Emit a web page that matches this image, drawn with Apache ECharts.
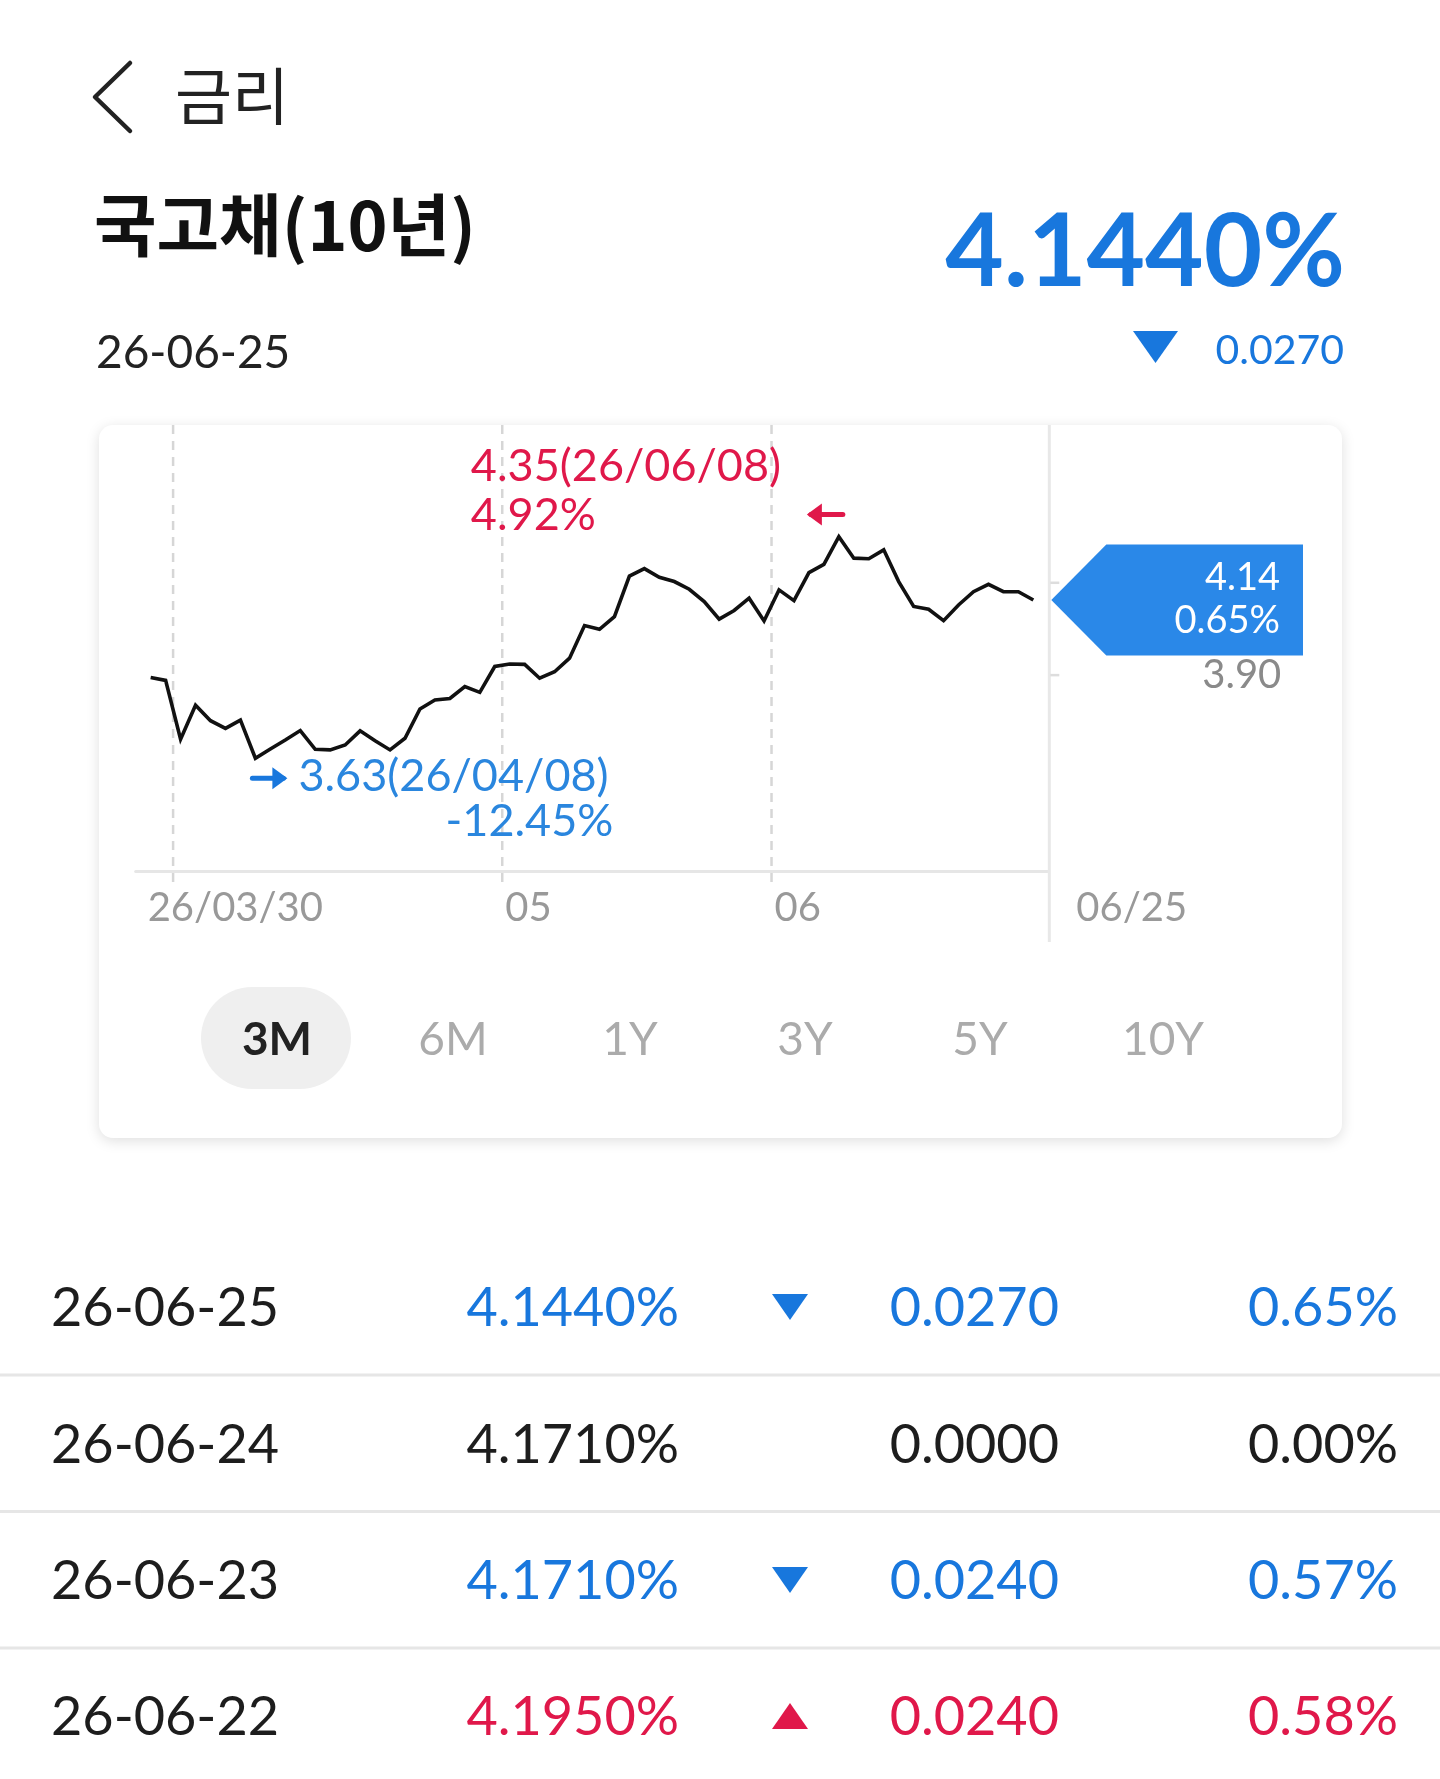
<!DOCTYPE html>
<html><head><meta charset="utf-8">
<script src="https://cdn.jsdelivr.net/npm/echarts@6/dist/echarts.min.js"></script>
<style>html,body{margin:0;padding:0;background:#fff}#c{width:1440px;height:1779px}</style>
</head><body><div id="c"></div>
<script>
// ---- data ----
const dates = ['26/03/30','26/03/31','26/04/01','26/04/02','26/04/03','26/04/06','26/04/07','26/04/08','26/04/09','26/04/10',
  '26/04/13','26/04/14','26/04/15','26/04/16','26/04/17','26/04/20','26/04/21','26/04/22','26/04/23','26/04/24',
  '26/04/27','26/04/28','26/04/29','26/04/30','26/05/04','26/05/06','26/05/07','26/05/08','26/05/11','26/05/12',
  '26/05/13','26/05/14','26/05/15','26/05/18','26/05/19','26/05/20','26/05/21','26/05/22','26/05/26','26/05/27',
  '26/05/28','26/05/29','26/06/01','26/06/02','26/06/04','26/06/05','26/06/08','26/06/09','26/06/10','26/06/11',
  '26/06/12','26/06/15','26/06/16','26/06/17','26/06/18','26/06/19','26/06/22','26/06/23','26/06/24','26/06/25'];
const rates = [3.892,3.883,3.692,3.802,3.752,3.727,3.754,3.630,3.660,3.689,
  3.720,3.659,3.657,3.673,3.719,3.687,3.657,3.695,3.790,3.819,
  3.824,3.863,3.844,3.928,3.936,3.935,3.890,3.911,3.955,4.061,
  4.049,4.090,4.222,4.246,4.218,4.204,4.179,4.139,4.082,4.110,
  4.150,4.076,4.177,4.142,4.233,4.260,4.350,4.280,4.278,4.307,
  4.204,4.123,4.114,4.077,4.128,4.171,4.195,4.171,4.171,4.144];
const yTickValues = [3.90, 4.20];
const yLabelValues = [3.90];
const periods = ['3M','6M','1Y','3Y','5Y','10Y'];
const maxPctText = '4.92%';
const minPctText = '-12.45%';

const headTitle = '금리';
const bondName = '국고채(10년)';
const headDate = '26-06-25';
const headRate = '4.1440%';
const headChange = '0.0270';

const tableDates = ['26-06-25','26-06-24','26-06-23','26-06-22'];
const tableRates = ['4.1440%','4.1710%','4.1710%','4.1950%'];
const tableChanges = ['0.0270','0.0000','0.0240','0.0240'];
const tablePcts = ['0.65%','0.00%','0.57%','0.58%'];
const tableDirs = [-1, 0, -1, 1];

// ---- style ----
const F = "Lato, 'Noto Sans CJK KR', sans-serif";
const KR = "'Noto Sans CJK KR', Lato, sans-serif";
const BLUE = '#1877dd', RED = '#e0184a', DARK = '#1d1d1d';

const chart = echarts.init(document.getElementById('c'), null, {renderer:'canvas', width:1440, height:1779});

const gridLeft = 135.7, gridRightPx = 1048.3, gridTop = 425.5, gridBottomPx = 871.5;

chart.setOption({
  backgroundColor:'#ffffff',
  animation:false,
  grid:{left:gridLeft, right:1440-gridRightPx, top:gridTop, bottom:1779-gridBottomPx, containLabel:false},
  xAxis:{type:'value', min:-1, max:rates.length, axisLine:{show:true, onZero:false, lineStyle:{color:'#e6e6e6', width:3}},
    axisTick:{show:false}, axisLabel:{show:false}, splitLine:{show:false}},
  yAxis:{type:'value', position:'right', min:3.262, max:4.711, scale:true,
    axisLine:{show:false},
    axisTick:{show:false},
    axisLabel:{show:true, customValues:yLabelValues, formatter:v=>v.toFixed(2), align:'right', margin:233, color:'#8a8a8a', fontSize:40, fontFamily:F},
    splitLine:{show:false}},
  series:[{type:'line', data:rates.map((v,i)=>[i,v]), symbol:'none', lineStyle:{color:'#111', width:3.6, join:'miter'}, z:5, silent:true}]
});

function T(text, x, y, size, fill, align, weight, family){
  return {type:'text', z:30, silent:true, style:{text:text, x:x, y:y, fill:fill,
    font:(weight||'normal')+' '+size+'px '+(family||F),
    textAlign:align||'left', textVerticalAlign:'middle', align:align||'left', verticalAlign:'middle'}};
}
function L(x1,y1,x2,y2,color,w,dash,z){
  return {type:'line', z:z||3, silent:true, shape:{x1:x1,y1:y1,x2:x2,y2:y2}, style:{stroke:color, lineWidth:w, lineDash:dash||null}};
}
function P(points, fill, z){
  return {type:'polygon', z:z||30, silent:true, shape:{points:points}, style:{fill:fill}};
}
function Poly(points, color, w){
  return {type:'polyline', z:30, silent:true, shape:{points:points}, style:{stroke:color, lineWidth:w, fill:null, lineCap:'round', lineJoin:'round'}};
}
const px = (i,v)=>chart.convertToPixel({gridIndex:0}, [i,v]);

const G = [];
// card
G.push({type:'rect', z:-10, silent:true, shape:{x:99, y:425, width:1243, height:713, r:14},
  style:{fill:'#fff', shadowBlur:14, shadowColor:'rgba(0,0,0,0.13)', shadowOffsetY:3}});
// header
G.push(Poly([[130,63],[95,97],[130,131]], '#222', 4.5));
G.push(T(headTitle, 175, 96, 62, '#222', 'left', 'normal', KR));
G.push(T(bondName, 94, 225, 68, '#111', 'left', 'bold', KR));
G.push(T(headRate, 1345, 253, 101, BLUE, 'right', 'bold'));
G.push(T(headDate, 96, 353, 46, '#222', 'left'));
G.push(P([[1133,331],[1178,331],[1155.5,363]], BLUE));
G.push(T(headChange, 1344, 351, 41, BLUE, 'right'));

// month boundaries (dashed lines + labels)
const month = s=>s.split('/')[1];
const bounds = [];
for (let i=0;i<dates.length-1;i++) if (month(dates[i])!==month(dates[i+1])) bounds.push(i+0.5);
bounds.forEach((b,k)=>{
  const x = px(b, 4)[0];
  G.push(L(x, 425, x, 885, '#d6d6d6', 2.5, [9,7], 1));
  if (k>0) G.push(T(month(dates[Math.ceil(b)]), x+3, 908, 40, '#999', 'left'));
});
G.push(T(dates[0], px(0,4)[0]-3, 908, 40, '#999', 'left'));
// separator and y ticks
G.push(L(gridRightPx+1, 425, gridRightPx+1, 942, '#e8e8e8', 3, null, 2));
yTickValues.forEach(v=>{ const y = px(0, v)[1]; G.push(L(gridRightPx+2, y, gridRightPx+11, y, '#dddddd', 2.5, null, 2)); });
const last = rates[rates.length-1], prev = rates[rates.length-2];
const lastDate = dates[dates.length-1].split('/');
G.push(T(lastDate[1]+'/'+lastDate[2], gridRightPx+28, 908, 40, '#999', 'left'));

// last value box
const yEnd = px(rates.length-1, last)[1];
const bx = gridRightPx+3;
G.push(P([[bx,yEnd],[bx+55,yEnd-55.5],[1303,yEnd-55.5],[1303,yEnd+55.5],[bx+55,yEnd+55.5]], '#2a88e8', 25));
G.push(T(last.toFixed(2), 1280, yEnd-22, 38, '#fff', 'right'));
G.push(T(Math.abs((last-prev)/prev*100).toFixed(2)+'%', 1280, yEnd+21, 38, '#fff', 'right'));

// max / min annotations
let iMax=0, iMin=0;
rates.forEach((v,i)=>{ if(v>rates[iMax]) iMax=i; if(v<rates[iMin]) iMin=i; });
const pMax = px(iMax, rates[iMax]), pMin = px(iMin, rates[iMin]);
G.push(T(rates[iMax].toFixed(2)+'('+dates[iMax]+')', pMax[0]-368, pMax[1]-70, 45, RED, 'left'));
G.push(T(maxPctText, pMax[0]-368, pMax[1]-21, 45, RED, 'left'));
// red arrow (left)
{ const ax = pMax[0]-30, ay = pMax[1]-22;
  G.push(Poly([[ax+2,ay],[ax+34,ay]], RED, 5));
  G.push(P([[ax-2,ay],[ax+13,ay-11],[ax+13,ay+11]], RED)); }
G.push(T(rates[iMin].toFixed(2)+'('+dates[iMin]+')', pMin[0]+43, pMin[1]+18, 45, '#2a86de', 'left'));
G.push(T(minPctText, pMin[0]+358, pMin[1]+63, 45, '#2a86de', 'right'));
{ const ax = pMin[0]-3, ay = pMin[1]+20;
  G.push(Poly([[ax,ay],[ax+31,ay]], BLUE, 5));
  G.push(P([[ax+35,ay],[ax+20,ay-11],[ax+20,ay+11]], BLUE)); }

// period buttons
const btnX = [277, 453, 630, 805, 980, 1163];
G.push({type:'rect', z:10, silent:true, shape:{x:201, y:987, width:150, height:102, r:51}, style:{fill:'#efefef'}});
periods.forEach((p,i)=>G.push(T(p, btnX[i], 1040, 46, i===0?'#222':'#ababab', 'center', i===0?'bold':'normal')));

// table
const rowY = [1307, 1443.5, 1580, 1716];
tableDates.forEach((d,i)=>{
  const c = tableDirs[i]<0?BLUE:(tableDirs[i]>0?RED:DARK);
  const y = rowY[i];
  G.push(T(d, 51, y+2, 54, DARK, 'left'));
  G.push(T(tableRates[i], 679, y+2, 54, c, 'right'));
  if (tableDirs[i]<0) G.push(P([[772,y-13],[808,y-13],[790,y+13]], c));
  if (tableDirs[i]>0) G.push(P([[772,y+13],[808,y+13],[790,y-13]], c));
  G.push(T(tableChanges[i], 1059, y+2, 54, c, 'right'));
  G.push(T(tablePcts[i], 1398, y+2, 54, c, 'right'));
  if (i<tableDates.length-1) G.push(L(0, y+68, 1440, y+68, '#e6e6e6', 3));
});

chart.setOption({graphic:{elements:G}});
</script></body></html>
